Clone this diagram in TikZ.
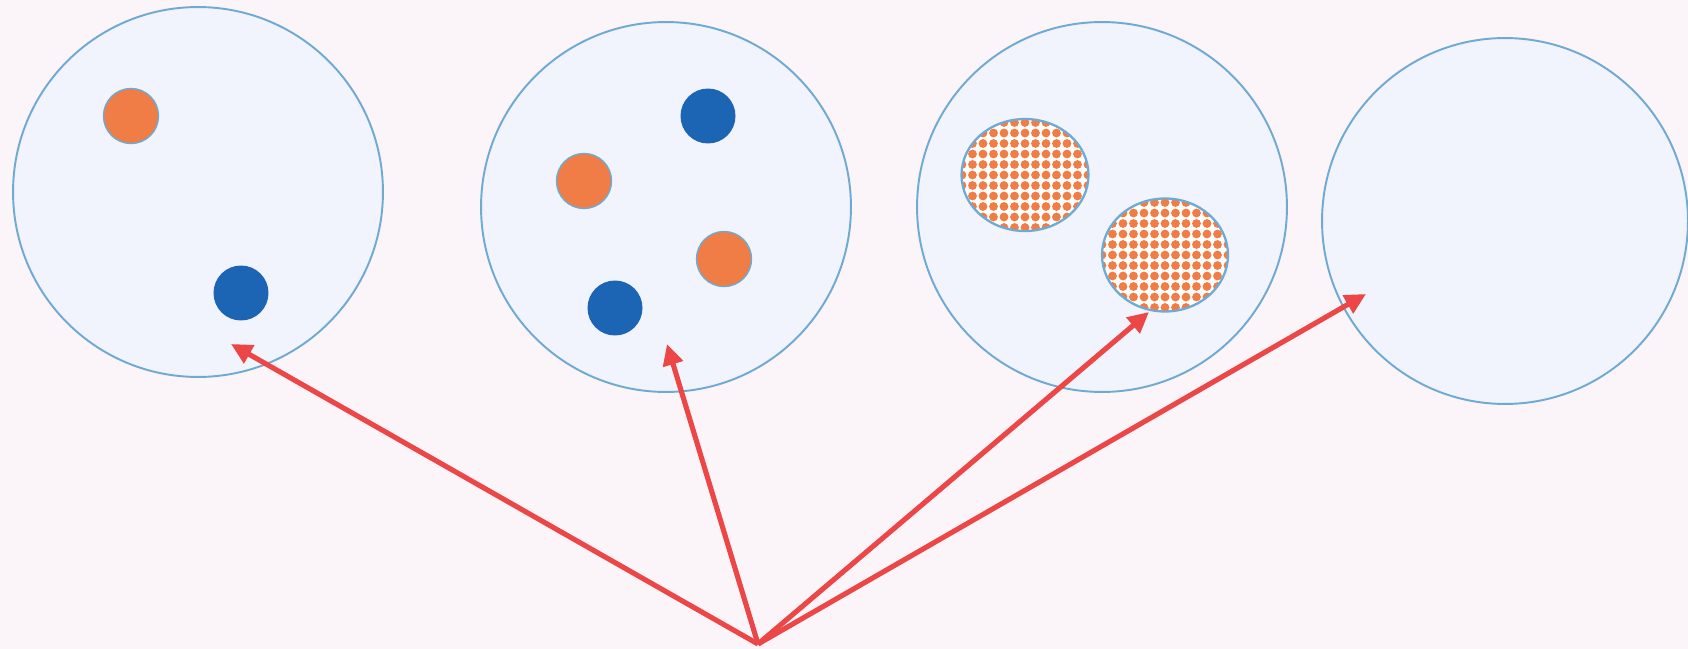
\documentclass[tikz,border=0pt]{standalone}
\usetikzlibrary{arrows.meta,shapes.geometric}

\definecolor{bgpink}{RGB}{251,245,250}
\definecolor{cellfill}{RGB}{241,244,252}
\definecolor{celline}{RGB}{110,170,210}
\definecolor{dotorange}{RGB}{240,125,70}
\definecolor{dotblue}{RGB}{28,100,180}
\definecolor{arrred}{RGB}{236,70,70}

\begin{document}
\begin{tikzpicture}[
  x=0.02cm, y=-0.02cm,
  cell/.style={circle, draw=celline, line width=1.1pt, fill=cellfill,
               inner sep=0pt, minimum size=7.4cm},
  odot/.style={circle, draw=celline, line width=0.8pt, fill=dotorange,
               inner sep=0pt, minimum size=1.1cm},
  bdot/.style={circle, fill=dotblue, inner sep=0pt, minimum size=1.1cm},
  blob/.style={ellipse, draw=celline, line width=1.3pt, fill=white,
               inner sep=0pt, minimum width=2.54cm, minimum height=2.24cm,
               path picture={
                 \foreach \i in {-7,...,7}
                   \foreach \j in {-6,...,6}
                     \fill[dotorange] ([shift={(\i*10.5,\j*10.5)}]path picture bounding box.center)
                       circle (0.088cm);
               }},
  arr/.style={-{Triangle[length=0.42cm,width=0.4cm]}, line width=2.9pt, arrred},
]

% Background and page size
\fill[bgpink] (0,0) rectangle (1688,649);
\useasboundingbox (0,0) rectangle (1688,649);

% Cells
\node[cell] (C1) at (198,192) {};
\node[cell] (C2) at (666,207) {};
\node[cell] (C3) at (1102,207) {};
\node[cell, minimum size=7.32cm] (C4) at (1505,221) {};

% Contents of cell 1
\node[odot] (O1) at (131,116) {};
\node[bdot] (B1) at (241,293) {};

% Contents of cell 2
\node[bdot] (B2) at (708,116) {};
\node[odot] (O2) at (584,181) {};
\node[odot] (O3) at (724,259) {};
\node[bdot] (B3) at (615,308) {};

% Contents of cell 3 (patterned blobs)
\node[blob] (P1) at (1025,175) {};
\node[blob, minimum width=2.52cm, minimum height=2.26cm] (P2) at (1165,255) {};

% Arrow ends
\coordinate (src) at (758,644);
\coordinate (t1) at (231,344);
\coordinate (t2) at (667,344);
\coordinate (t3) at (1149,312);
\coordinate (t4) at (1366,294);

% Arrows from the common source
\draw[arr] (src) -- (t1);
\draw[arr] (src) -- (t2);
\draw[arr] (src) -- (t3);
\draw[arr] (src) -- (t4);

\end{tikzpicture}
\end{document}
